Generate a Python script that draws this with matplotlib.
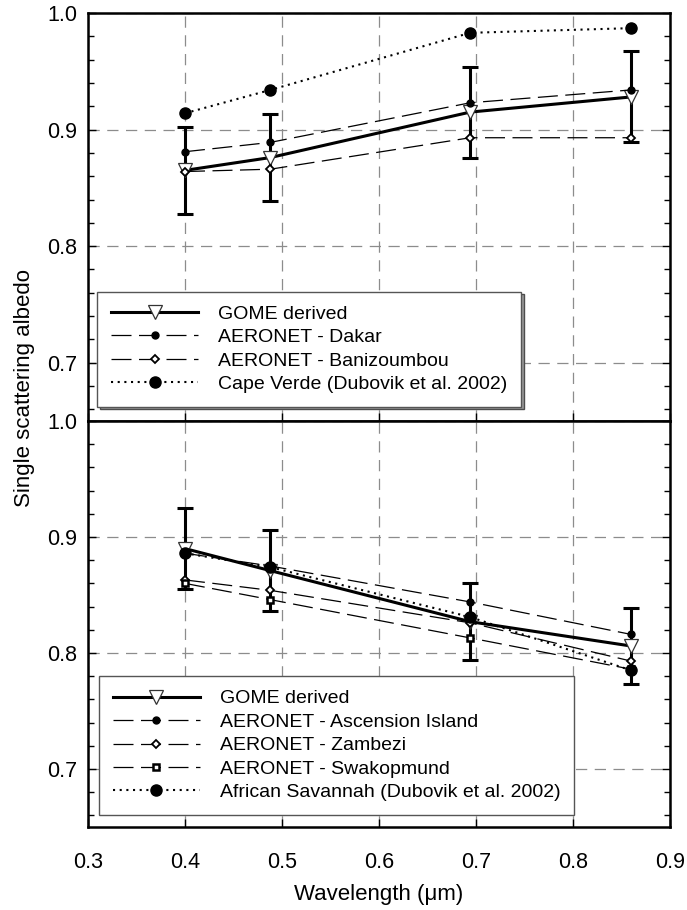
import matplotlib
matplotlib.use("Agg")
import matplotlib.pyplot as plt
from matplotlib.ticker import MultipleLocator, FormatStrFormatter

plt.rcParams['font.family'] = ['Liberation Sans', 'DejaVu Sans']

wavelength = [0.4, 0.488, 0.694, 0.86]

# Top panel
gome_top = [0.865, 0.876, 0.915, 0.928]
gome_top_err = [0.037, 0.037, 0.039, 0.039]
dakar = [0.881, 0.889, 0.923, 0.934]
banizoumbou = [0.864, 0.866, 0.893, 0.893]
cape_verde = [0.914, 0.934, 0.983, 0.987]

# Bottom panel
gome_bot = [0.890, 0.871, 0.827, 0.806]
gome_bot_err = [0.035, 0.035, 0.033, 0.033]
ascension = [0.886, 0.875, 0.844, 0.816]
zambezi = [0.863, 0.854, 0.826, 0.793]
swakopmund = [0.860, 0.846, 0.813, 0.786]
savannah = [0.886, 0.874, 0.831, 0.785]

top_labels = ["GOME derived", "AERONET - Dakar", "AERONET - Banizoumbou",
              "Cape Verde (Dubovik et al. 2002)"]
bot_labels = ["GOME derived", "AERONET - Ascension Island", "AERONET - Zambezi",
              "AERONET - Swakopmund", "African Savannah (Dubovik et al. 2002)"]

xticks = [0.3, 0.4, 0.5, 0.6, 0.7, 0.8, 0.9]
yticks = [0.7, 0.8, 0.9, 1.0]

fig = plt.figure(figsize=(6.87, 9.10), dpi=100)
L, R = 88 / 687, 670 / 687
ax1 = fig.add_axes([L, 1 - 421 / 910, R - L, (421 - 13) / 910])
ax2 = fig.add_axes([L, 1 - 827 / 910, R - L, (827 - 421) / 910])

DASH = (0, (16, 6))
DOT = (0, (1, 2.2))


def style(ax):
    ax.set_xlim(0.3, 0.9)
    ax.set_ylim(0.65, 1.0)
    ax.set_xticks(xticks)
    ax.set_yticks(yticks)
    ax.yaxis.set_minor_locator(MultipleLocator(0.02))
    ax.tick_params(axis='both', which='both', direction='in', labelsize=15.5,
                   width=1.0, right=True, top=False)
    ax.tick_params(axis='x', which='major', length=6, pad=18)
    ax.tick_params(axis='y', which='major', length=6, pad=7.5)
    ax.tick_params(axis='y', which='minor', length=4)
    ax.grid(True, which='major', color='#8c8c8c', linestyle=(0, (9, 6)), linewidth=0.9)
    ax.set_axisbelow(True)
    for s in ax.spines.values():
        s.set_linewidth(1.8)
    ax.yaxis.set_major_formatter(FormatStrFormatter('%.1f'))
    ax.xaxis.set_major_formatter(FormatStrFormatter('%.1f'))


style(ax1)
style(ax2)
ax1.tick_params(axis='x', labelbottom=False)

LEG = dict(loc='lower left', fontsize=14, handlelength=4.5, handletextpad=1.0,
           labelspacing=0.3, borderpad=0.7, borderaxespad=0, fancybox=False,
           framealpha=1, edgecolor='#555555')

# ---- top panel ----
ax1.errorbar(wavelength, gome_top, yerr=gome_top_err, fmt='none', ecolor='black',
             elinewidth=2.2, capsize=6, capthick=2.2, zorder=3)
ax1.plot(wavelength, gome_top, '-', color='black', lw=2.2, marker='v', ms=10,
         mfc='white', mec='#333333', mew=0.9, label=top_labels[0], zorder=4)
ax1.plot(wavelength, dakar, linestyle=DASH, color='black', lw=0.9, marker='o', ms=5,
         mfc='black', mec='black', label=top_labels[1], zorder=5)
ax1.plot(wavelength, banizoumbou, linestyle=DASH, color='black', lw=0.9, marker='D', ms=4.5,
         mfc='white', mec='black', mew=1.3, label=top_labels[2], zorder=5)
ax1.plot(wavelength, cape_verde, linestyle=DOT, color='black', lw=1.5, marker='o', ms=8,
         mfc='black', mec='black', label=top_labels[3], zorder=5)

leg1 = ax1.legend(bbox_to_anchor=(0.016, 0.035),
                  shadow={'facecolor': '#9a9a9a', 'alpha': 1.0}, **LEG)
leg1.get_frame().set_linewidth(1.0)

# ---- bottom panel ----
ax2.errorbar(wavelength, gome_bot, yerr=gome_bot_err, fmt='none', ecolor='black',
             elinewidth=2.2, capsize=6, capthick=2.2, zorder=3)
ax2.plot(wavelength, gome_bot, '-', color='black', lw=2.2, marker='v', ms=10,
         mfc='white', mec='#333333', mew=0.9, label=bot_labels[0], zorder=4)
ax2.plot(wavelength, ascension, linestyle=DASH, color='black', lw=0.9, marker='o', ms=5,
         mfc='black', mec='black', label=bot_labels[1], zorder=5)
ax2.plot(wavelength, zambezi, linestyle=DASH, color='black', lw=0.9, marker='D', ms=4.5,
         mfc='white', mec='black', mew=1.3, label=bot_labels[2], zorder=5)
ax2.plot(wavelength, swakopmund, linestyle=DASH, color='black', lw=0.9, marker='s', ms=5,
         mfc='white', mec='black', mew=1.8, label=bot_labels[3], zorder=5)
ax2.plot(wavelength, savannah, linestyle=DOT, color='black', lw=1.5, marker='o', ms=8,
         mfc='black', mec='black', label=bot_labels[4], zorder=5)

leg2 = ax2.legend(bbox_to_anchor=(0.019, 0.03), **LEG)
leg2.get_frame().set_linewidth(1.0)

ax2.set_xlabel('Wavelength (\u03bcm)', fontsize=16, labelpad=8)
fig.text(25 / 687, 1 - 388 / 910, 'Single scattering albedo', rotation=90,
         fontsize=16, ha='center', va='center')

fig.savefig('out.png', dpi=100)
